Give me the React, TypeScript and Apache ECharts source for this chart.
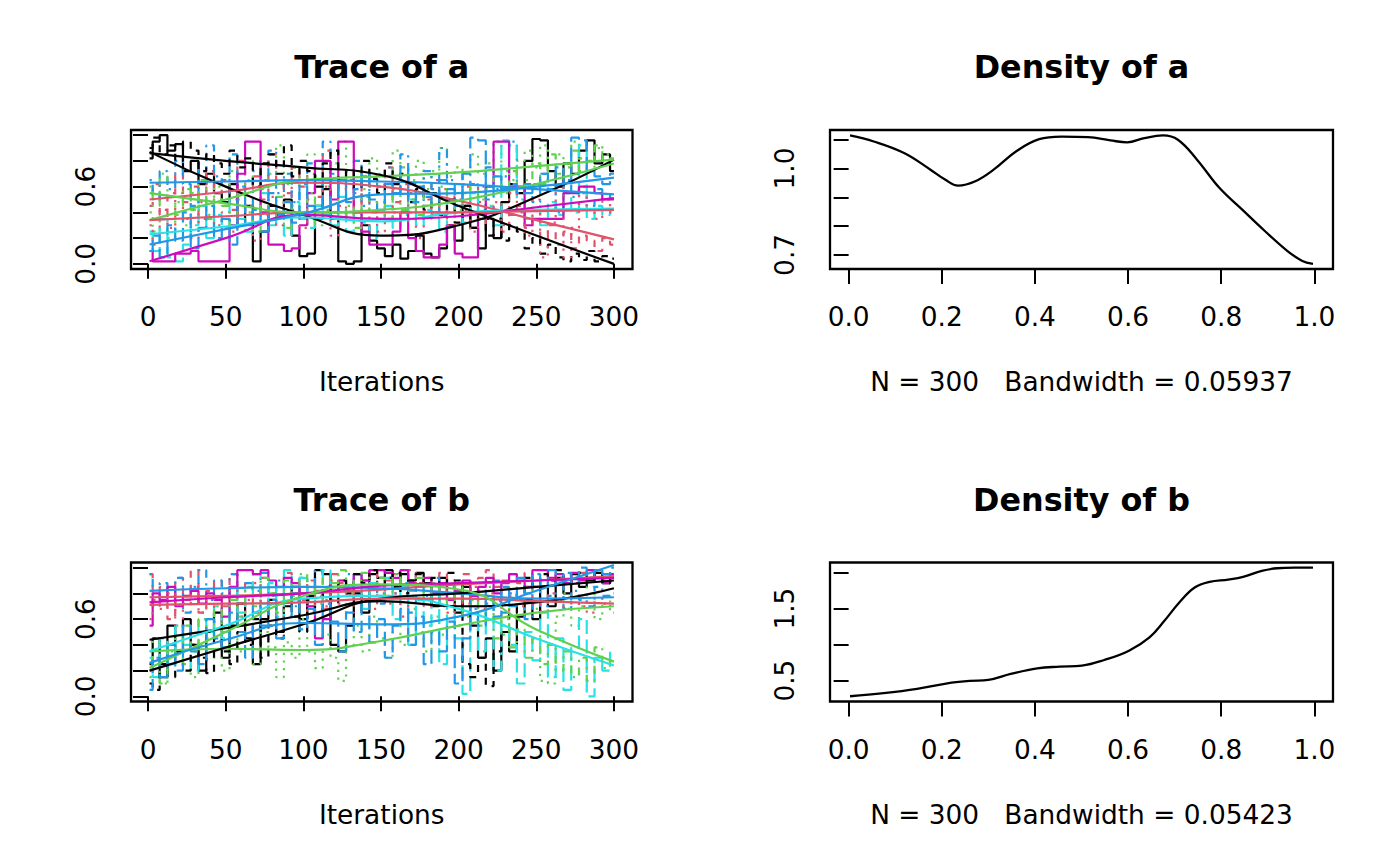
import React, { useEffect, useRef } from 'react';
import * as echarts from 'echarts';

// ---------- data ----------
const ITER = [1, 5, 10, 15, 20, 25, 30, 35, 40, 45, 50, 55, 60, 65, 70, 75, 80, 85, 90, 95, 100, 105, 110, 115, 120, 125, 130, 135, 140, 145, 150, 155, 160, 165, 170, 175, 180, 185, 190, 195, 200, 205, 210, 215, 220, 225, 230, 235, 240, 245, 250, 255, 260, 265, 270, 275, 280, 285, 290, 295, 300];

// parameter a, chains 1..10
const A1 = [0.82, 0.95, 1.00, 0.88, 0.93, 0.72, 0.80, 0.62, 0.70, 0.55,
  0.48, 0.62, 0.30, 0.45, 0.02, 0.25, 0.45, 0.38, 0.50, 0.22,
  0.06, 0.08, 0.45, 0.58, 0.35, 0.02, 0.00, 0.02, 0.30, 0.18,
  0.12, 0.06, 0.15, 0.04, 0.10, 0.22, 0.08, 0.05, 0.12, 0.30,
  0.18, 0.45, 0.28, 0.12, 0.35, 0.20, 0.48, 0.62, 0.55, 0.80,
  0.97, 0.96, 0.72, 0.60, 0.78, 0.70, 0.88, 0.96, 0.78, 0.85,
  0.72];
const A2 = [0.45, 0.62, 0.38, 0.55, 0.70, 0.48, 0.60, 0.35, 0.72, 0.55,
  0.65, 0.42, 0.80, 0.58, 0.68, 0.50, 0.85, 0.62, 0.55, 0.75,
  0.60, 0.70, 0.52, 0.88, 0.65, 0.58, 0.72, 0.45, 0.68, 0.60,
  0.55, 0.75, 0.48, 0.62, 0.40, 0.58, 0.50, 0.65, 0.38, 0.52,
  0.45, 0.60, 0.35, 0.48, 0.30, 0.42, 0.25, 0.38, 0.45, 0.28,
  0.35, 0.20, 0.30, 0.15, 0.25, 0.12, 0.22, 0.18, 0.10, 0.20,
  0.15];
const A3 = [0.40, 0.25, 0.35, 0.20, 0.48, 0.30, 0.55, 0.42, 0.38, 0.60,
  0.50, 0.72, 0.45, 0.65, 0.80, 0.58, 0.70, 0.92, 0.62, 0.75,
  0.55, 0.85, 0.68, 0.60, 0.78, 0.95, 0.65, 0.72, 0.58, 0.82,
  0.70, 0.62, 0.88, 0.75, 0.65, 0.80, 0.58, 0.72, 0.90, 0.68,
  0.75, 0.62, 0.85, 0.70, 0.78, 0.95, 0.72, 0.65, 0.80, 0.88,
  0.75, 0.92, 0.70, 0.85, 0.78, 0.95, 0.82, 0.72, 0.90, 0.85,
  0.80];
const A4 = [0.65, 0.50, 0.72, 0.58, 0.80, 0.62, 0.45, 0.75, 0.92, 0.68,
  0.55, 0.85, 0.60, 0.40, 0.72, 0.65, 0.88, 0.55, 0.70, 0.48,
  0.62, 0.78, 0.58, 0.95, 0.70, 0.52, 0.65, 0.80, 0.45, 0.68,
  0.60, 0.75, 0.55, 0.85, 0.62, 0.48, 0.72, 0.58, 0.90, 0.65,
  0.50, 0.70, 0.62, 0.42, 0.75, 0.58, 0.68, 0.95, 0.55, 0.62,
  0.48, 0.70, 0.58, 0.40, 0.65, 0.52, 0.60, 0.45, 0.58, 0.50,
  0.55];
const A5 = [0.25, 0.10, 0.35, 0.05, 0.02, 0.15, 0.30, 0.45, 0.20, 0.38,
  0.28, 0.50, 0.35, 0.25, 0.42, 0.55, 0.30, 0.40, 0.22, 0.48,
  0.35, 0.28, 0.45, 0.38, 0.30, 0.52, 0.25, 0.40, 0.32, 0.20,
  0.35, 0.45, 0.28, 0.38, 0.50, 0.30, 0.42, 0.35, 0.25, 0.48,
  0.40, 0.32, 0.55, 0.38, 0.45, 0.30, 0.96, 0.92, 0.50, 0.35,
  0.42, 0.30, 0.48, 0.38, 0.55, 0.40, 0.92, 0.35, 0.45, 0.38,
  0.42];
const A6 = [0.10, 0.02, 0.02, 0.02, 0.08, 0.08, 0.10, 0.02, 0.02, 0.02,
  0.02, 0.30, 0.70, 0.95, 0.95, 0.40, 0.15, 0.15, 0.10, 0.12,
  0.30, 0.55, 0.80, 0.80, 0.50, 0.95, 0.95, 0.40, 0.25, 0.15,
  0.15, 0.15, 0.25, 0.40, 0.20, 0.10, 0.05, 0.05, 0.15, 0.30,
  0.08, 0.05, 0.05, 0.35, 0.60, 0.95, 0.95, 0.60, 0.60, 0.30,
  0.35, 0.35, 0.35, 0.35, 0.55, 0.55, 0.60, 0.60, 0.55, 0.50,
  0.50];
const A7 = [0.90, 0.98, 0.85, 0.92, 0.80, 0.95, 0.88, 0.72, 0.85, 0.78,
  0.70, 0.88, 0.75, 0.82, 0.60, 0.78, 0.85, 0.70, 0.92, 0.68,
  0.80, 0.72, 0.60, 0.78, 0.88, 0.65, 0.72, 0.58, 0.80, 0.66,
  0.55, 0.78, 0.62, 0.70, 0.48, 0.58, 0.42, 0.55, 0.38, 0.50,
  0.32, 0.45, 0.28, 0.40, 0.22, 0.35, 0.18, 0.30, 0.25, 0.12,
  0.20, 0.08, 0.15, 0.05, 0.02, 0.08, 0.03, 0.10, 0.02, 0.06,
  0.04];
const A8 = [0.30, 0.15, 0.42, 0.28, 0.55, 0.35, 0.20, 0.48, 0.62, 0.30,
  0.40, 0.25, 0.58, 0.45, 0.18, 0.38, 0.52, 0.30, 0.65, 0.42,
  0.28, 0.50, 0.35, 0.60, 0.22, 0.45, 0.38, 0.55, 0.30, 0.48,
  0.25, 0.62, 0.40, 0.33, 0.55, 0.20, 0.45, 0.38, 0.58, 0.30,
  0.50, 0.42, 0.25, 0.60, 0.35, 0.48, 0.30, 0.55, 0.40, 0.22,
  0.50, 0.05, 0.32, 0.60, 0.05, 0.28, 0.55, 0.42, 0.35, 0.50,
  0.40];
const A9 = [0.60, 0.45, 0.70, 0.52, 0.38, 0.58, 0.42, 0.65, 0.35, 0.50,
  0.45, 0.30, 0.55, 0.40, 0.25, 0.48, 0.35, 0.52, 0.28, 0.45,
  0.38, 0.55, 0.30, 0.42, 0.50, 0.35, 0.45, 0.28, 0.52, 0.40,
  0.48, 0.35, 0.58, 0.42, 0.50, 0.38, 0.55, 0.45, 0.60, 0.48,
  0.42, 0.55, 0.62, 0.50, 0.58, 0.68, 0.55, 0.72, 0.60, 0.65,
  0.78, 0.62, 0.85, 0.70, 0.75, 0.88, 0.72, 0.80, 0.92, 0.78,
  0.82];
const A10 = [0.10, 0.22, 0.05, 0.30, 0.18, 0.40, 0.12, 0.28, 0.45, 0.20,
  0.35, 0.15, 0.50, 0.30, 0.42, 0.25, 0.55, 0.38, 0.48, 0.32,
  0.60, 0.45, 0.35, 0.52, 0.40, 0.65, 0.48, 0.58, 0.70, 0.50,
  0.42, 0.62, 0.55, 0.75, 0.48, 0.60, 0.52, 0.40, 0.65, 0.58,
  0.45, 0.70, 0.98, 0.96, 0.50, 0.68, 0.58, 0.62, 0.55, 0.55,
  0.62, 0.70, 0.58, 0.75, 0.65, 0.98, 0.96, 0.72, 0.68, 0.62,
  0.70];

// parameter b, chains 1..10
const B1 = [0.25, 0.45, 0.15, 0.55, 0.35, 0.60, 0.40, 0.20, 0.50, 0.65,
  0.30, 0.55, 0.72, 0.45, 0.25, 0.60, 0.75, 0.50, 0.70, 0.85,
  0.60, 0.78, 0.98, 0.95, 0.40, 0.35, 0.55, 0.80, 0.65, 0.95,
  0.92, 0.98, 0.85, 0.95, 0.90, 0.96, 0.88, 0.70, 0.92, 0.80,
  0.65, 0.85, 0.55, 0.30, 0.45, 0.20, 0.50, 0.35, 0.62, 0.75,
  0.60, 0.85, 0.70, 0.92, 0.80, 0.95, 0.85, 0.90, 0.96, 0.88,
  0.92];
const B2 = [0.95, 0.70, 0.85, 0.60, 0.92, 0.75, 0.98, 0.65, 0.82, 0.90,
  0.70, 0.95, 0.78, 0.88, 0.65, 0.92, 0.80, 0.72, 0.96, 0.85,
  0.75, 0.90, 0.82, 0.68, 0.95, 0.88, 0.78, 0.92, 0.85, 0.98,
  0.80, 0.90, 0.95, 0.85, 0.98, 0.88, 0.92, 0.80, 0.96, 0.90,
  0.85, 0.95, 0.88, 0.92, 0.98, 0.85, 0.90, 0.95, 0.88, 0.96,
  0.92, 0.85, 0.98, 0.90, 0.94, 0.88, 0.96, 0.92, 0.98, 0.90,
  0.95];
const B3 = [0.20, 0.45, 0.10, 0.35, 0.55, 0.25, 0.15, 0.40, 0.60, 0.30,
  0.20, 0.45, 0.35, 0.55, 0.25, 0.50, 0.38, 0.15, 0.42, 0.30,
  0.60, 0.35, 0.22, 0.48, 0.30, 0.12, 0.40, 0.55, 0.35, 0.62,
  0.45, 0.30, 0.55, 0.40, 0.68, 0.50, 0.35, 0.62, 0.48, 0.75,
  0.55, 0.40, 0.70, 0.58, 0.85, 0.62, 0.48, 0.75, 0.60, 0.90,
  0.68, 0.12, 0.10, 0.62, 0.80, 0.55, 0.70, 0.85, 0.60, 0.78,
  0.65];
const B4 = [0.95, 0.70, 0.88, 0.78, 0.92, 0.65, 0.85, 0.98, 0.75, 0.90,
  0.80, 0.95, 0.72, 0.88, 0.82, 0.96, 0.78, 0.90, 0.85, 0.70,
  0.92, 0.80, 0.98, 0.75, 0.88, 0.82, 0.95, 0.78, 0.90, 0.85,
  0.72, 0.92, 0.80, 0.88, 0.65, 0.85, 0.78, 0.92, 0.70, 0.85,
  0.75, 0.88, 0.68, 0.82, 0.72, 0.90, 0.65, 0.80, 0.75, 0.60,
  0.85, 0.70, 0.78, 0.92, 0.68, 0.82, 0.75, 0.70, 0.85, 0.78,
  0.80];
const B5 = [0.30, 0.15, 0.45, 0.25, 0.55, 0.40, 0.20, 0.60, 0.50, 0.70,
  0.45, 0.85, 0.65, 0.78, 0.95, 0.72, 0.88, 0.62, 0.98, 0.80,
  0.92, 0.70, 0.85, 0.98, 0.75, 0.90, 0.82, 0.95, 0.68, 0.88,
  0.78, 0.92, 0.60, 0.85, 0.40, 0.75, 0.55, 0.80, 0.25, 0.70,
  0.45, 0.02, 0.60, 0.35, 0.75, 0.20, 0.55, 0.40, 0.10, 0.50,
  0.28, 0.65, 0.15, 0.45, 0.05, 0.38, 0.60, 0.00, 0.30, 0.20,
  0.35];
const B6 = [0.55, 0.80, 0.75, 0.85, 0.70, 0.78, 0.82, 0.72, 0.80, 0.75,
  0.62, 0.85, 0.98, 0.98, 0.95, 0.98, 0.90, 0.85, 0.92, 0.88,
  0.80, 0.70, 0.45, 0.60, 0.85, 0.90, 0.82, 0.95, 0.90, 0.98,
  0.98, 0.96, 0.92, 0.98, 0.88, 0.85, 0.92, 0.80, 0.88, 0.75,
  0.82, 0.90, 0.78, 0.85, 0.92, 0.80, 0.88, 0.95, 0.90, 0.85,
  0.98, 0.98, 0.92, 0.95, 0.88, 0.96, 0.90, 0.98, 0.92, 0.88,
  0.95];
const B7 = [0.10, 0.05, 0.25, 0.15, 0.35, 0.20, 0.40, 0.30, 0.18, 0.45,
  0.35, 0.25, 0.50, 0.40, 0.60, 0.30, 0.55, 0.45, 0.70, 0.62,
  0.50, 0.75, 0.68, 0.85, 0.72, 0.90, 0.80, 0.95, 0.88, 0.98,
  0.85, 0.92, 0.96, 0.80, 0.90, 0.95, 0.88, 0.92, 0.85, 0.96,
  0.90, 0.25, 0.15, 0.30, 0.08, 0.35, 0.50, 0.65, 0.80, 0.92,
  0.85, 0.95, 0.90, 0.98, 0.88, 0.92, 0.96, 0.90, 0.94, 0.88,
  0.92];
const B8 = [0.60, 0.75, 0.68, 0.80, 0.55, 0.72, 0.85, 0.65, 0.78, 0.58,
  0.70, 0.82, 0.62, 0.75, 0.88, 0.68, 0.72, 0.60, 0.80, 0.74,
  0.85, 0.66, 0.78, 0.70, 0.90, 0.72, 0.65, 0.82, 0.76, 0.68,
  0.85, 0.72, 0.80, 0.62, 0.78, 0.88, 0.70, 0.75, 0.82, 0.65,
  0.78, 0.72, 0.85, 0.68, 0.80, 0.74, 0.62, 0.78, 0.70, 0.85,
  0.72, 0.66, 0.80, 0.74, 0.68, 0.78, 0.70, 0.65, 0.76, 0.72,
  0.70];
const B9 = [0.15, 0.30, 0.10, 0.40, 0.25, 0.55, 0.35, 0.60, 0.45, 0.70,
  0.50, 0.75, 0.62, 0.85, 0.70, 0.92, 0.80, 0.65, 0.90, 0.78,
  0.95, 0.85, 0.72, 0.92, 0.88, 0.98, 0.80, 0.90, 0.96, 0.85,
  0.92, 0.78, 0.95, 0.88, 0.82, 0.92, 0.75, 0.88, 0.80, 0.70,
  0.85, 0.62, 0.75, 0.55, 0.68, 0.45, 0.60, 0.38, 0.52, 0.30,
  0.45, 0.25, 0.40, 0.20, 0.35, 0.15, 0.30, 0.12, 0.38, 0.22,
  0.30];
const B10 = [0.05, 0.30, 0.15, 0.40, 0.20, 0.55, 0.35, 0.25, 0.60, 0.45,
  0.38, 0.65, 0.50, 0.30, 0.70, 0.55, 0.75, 0.45, 0.62, 0.80,
  0.52, 0.68, 0.40, 0.72, 0.58, 0.35, 0.65, 0.50, 0.75, 0.42,
  0.60, 0.30, 0.55, 0.68, 0.40, 0.62, 0.25, 0.50, 0.35, 0.58,
  0.10, 0.45, 0.70, 0.55, 0.78, 0.62, 0.85, 0.70, 0.92, 0.80,
  0.95, 0.85, 0.98, 0.90, 0.96, 0.88, 1.00, 0.92, 0.98, 0.95,
  1.00];

// lowess smooth lines (per chain) at these iterations
const SMOOTH_X = [1, 50, 100, 150, 200, 250, 300];
const SMOOTH_A = [
  [0.87, 0.60, 0.38, 0.22, 0.30, 0.52, 0.81],
  [0.50, 0.56, 0.63, 0.60, 0.49, 0.34, 0.19],
  [0.34, 0.50, 0.65, 0.68, 0.71, 0.76, 0.81],
  [0.63, 0.64, 0.65, 0.64, 0.62, 0.58, 0.54],
  [0.23, 0.29, 0.36, 0.33, 0.40, 0.42, 0.43],
  [0.02, 0.20, 0.38, 0.35, 0.37, 0.44, 0.51],
  [0.86, 0.80, 0.75, 0.69, 0.45, 0.22, 0.00],
  [0.34, 0.37, 0.40, 0.40, 0.40, 0.41, 0.42],
  [0.55, 0.47, 0.40, 0.42, 0.49, 0.62, 0.78],
  [0.15, 0.27, 0.39, 0.54, 0.55, 0.60, 0.67],
];
const SMOOTH_B = [
  [0.44, 0.53, 0.63, 0.74, 0.70, 0.73, 0.84],
  [0.77, 0.78, 0.80, 0.83, 0.87, 0.90, 0.935],
  [0.35, 0.37, 0.36, 0.43, 0.55, 0.65, 0.70],
  [0.82, 0.84, 0.85, 0.84, 0.80, 0.76, 0.77],
  [0.35, 0.55, 0.76, 0.78, 0.68, 0.45, 0.24],
  [0.73, 0.77, 0.80, 0.86, 0.88, 0.90, 0.92],
  [0.20, 0.38, 0.56, 0.76, 0.80, 0.85, 0.90],
  [0.71, 0.72, 0.73, 0.76, 0.76, 0.74, 0.72],
  [0.22, 0.50, 0.78, 0.87, 0.83, 0.52, 0.27],
  [0.26, 0.44, 0.57, 0.56, 0.62, 0.82, 1.02],
];

// kernel density curves
const DENS_A_X = [0.003, 0.054, 0.119, 0.175, 0.207, 0.235, 0.272, 0.312, 0.36, 0.409, 0.457, 0.514, 0.562, 0.598, 0.635, 0.675, 0.707, 0.748, 0.796, 0.844, 0.893, 0.941, 0.973, 0.997];
const DENS_A_Y = [1.115, 1.094, 1.054, 0.997, 0.962, 0.941, 0.956, 0.997, 1.06, 1.102, 1.111, 1.109, 1.098, 1.091, 1.106, 1.115, 1.1, 1.031, 0.933, 0.859, 0.784, 0.715, 0.68, 0.669];
const DENS_B_X = [0.003, 0.075, 0.147, 0.212, 0.26, 0.3, 0.348, 0.405, 0.453, 0.501, 0.549, 0.602, 0.646, 0.678, 0.71, 0.743, 0.775, 0.815, 0.847, 0.887, 0.92, 0.972, 0.997];
const DENS_B_Y = [0.283, 0.325, 0.385, 0.463, 0.496, 0.51, 0.593, 0.671, 0.694, 0.708, 0.786, 0.915, 1.1, 1.331, 1.585, 1.792, 1.871, 1.903, 1.94, 2.023, 2.06, 2.069, 2.07];

// ticks / labels
const TRACE_X_TICKS = [0, 50, 100, 150, 200, 250, 300];
const TRACE_Y_TICKS = [0, 0.2, 0.4, 0.6, 0.8, 1.0];
const TRACE_Y_LABELS = [0, 0.6];
const DENS_X_TICKS = [0, 0.2, 0.4, 0.6, 0.8, 1.0];
const DENS_A_Y_TICKS = [0.7, 0.8, 0.9, 1.0, 1.1];
const DENS_A_Y_LABELS = [0.7, 1.0];
const DENS_B_Y_TICKS = [0.5, 1.0, 1.5, 2.0];
const DENS_B_Y_LABELS = [0.5, 1.5];

const TITLES = ['Trace of a', 'Density of a', 'Trace of b', 'Density of b'];
const XLABELS = ['Iterations', 'N = 300   Bandwidth = 0.05937', 'Iterations', 'N = 300   Bandwidth = 0.05423'];

const CHAIN_COLORS = ['#000000', '#DF536B', '#61D04F', '#2297E6', '#28E2E5', '#CD0BBC', '#000000', '#DF536B', '#61D04F', '#2297E6'];

// ---------- styling ----------
const FONT = 'DejaVu Sans';
const FS = 26.4;
const TFS = 31.8;
const LW = 2.2;
const LTY: any = {
  solid: 'solid',
  dashed: [7, 7],
  dotted: [2.2, 5.5],
  dotdash: [2.2, 5.5, 8, 5.5],
  longdash: [14, 5.5],
};
const CHAIN_LTY = ['solid', 'dashed', 'dotted', 'dotdash', 'longdash', 'solid', 'dashed', 'dotted', 'dotdash', 'longdash'];

const GRIDS = [
  { left: 131, top: 130, width: 501.5, height: 139 },
  { left: 830, top: 130, width: 503, height: 139 },
  { left: 131, top: 562.5, width: 501.5, height: 139 },
  { left: 830, top: 562.5, width: 503, height: 139 },
];

export default function App() {
  const ref = useRef<HTMLDivElement>(null);
  useEffect(() => {
    if (!ref.current) return;
    const chart = echarts.init(ref.current, null, { renderer: 'svg' });

    const xAxis = (gi: number, min: number, max: number, ticks: number[], labels: number[], fmt: (v: number) => string) => ({
      type: 'value', gridIndex: gi, min, max, position: 'bottom',
      axisLine: { show: false },
      splitLine: { show: false },
      axisTick: { show: true, length: 15, customValues: ticks, lineStyle: { color: '#000', width: 2 } },
      axisLabel: { customValues: labels, margin: 34.5, formatter: fmt, color: '#000', fontSize: FS, fontFamily: FONT },
    });
    const yAxis = (gi: number, min: number, max: number, ticks: number[], labels: number[]) => ({
      type: 'value', gridIndex: gi, min, max, position: 'left',
      axisLine: { show: false },
      splitLine: { show: false },
      axisTick: { show: true, length: 15, customValues: ticks, lineStyle: { color: '#000', width: 2 } },
      axisLabel: { customValues: labels, margin: 32.5, rotate: 90, formatter: (v: number) => v.toFixed(1), color: '#000', fontSize: FS, fontFamily: FONT },
    });

    const series: any[] = [];
    const addTrace = (chains: number[][], smooth: number[][], xi: number) => {
      chains.forEach((vals, k) => {
        series.push({
          type: 'line', xAxisIndex: xi, yAxisIndex: xi,
          data: ITER.map((it, i) => [it, vals[i]]),
          symbol: 'none', step: 'middle',
          lineStyle: { color: CHAIN_COLORS[k], width: LW, type: LTY[CHAIN_LTY[k]] },
          silent: true,
        });
      });
      smooth.forEach((vals, k) => {
        series.push({
          type: 'line', xAxisIndex: xi, yAxisIndex: xi,
          data: SMOOTH_X.map((it, i) => [it, vals[i]]),
          symbol: 'none', smooth: 0.5,
          lineStyle: { color: CHAIN_COLORS[k], width: LW, type: 'solid' },
          silent: true,
        });
      });
    };
    addTrace([A1, A2, A3, A4, A5, A6, A7, A8, A9, A10], SMOOTH_A, 0);
    addTrace([B1, B2, B3, B4, B5, B6, B7, B8, B9, B10], SMOOTH_B, 2);
    series.push({
      type: 'line', xAxisIndex: 1, yAxisIndex: 1,
      data: DENS_A_X.map((x, i) => [x, DENS_A_Y[i]]),
      symbol: 'none', smooth: 0.4,
      lineStyle: { color: '#000', width: 2.3 }, silent: true,
    });
    series.push({
      type: 'line', xAxisIndex: 3, yAxisIndex: 3,
      data: DENS_B_X.map((x, i) => [x, DENS_B_Y[i]]),
      symbol: 'none', smooth: 0.4,
      lineStyle: { color: '#000', width: 2.3 }, silent: true,
    });

    const graphic: any[] = [];
    GRIDS.forEach((g, i) => {
      const cx = g.left + g.width / 2;
      graphic.push({
        type: 'text', x: cx, y: g.top - 63.5, silent: true,
        style: { text: TITLES[i], fill: '#000', font: `bold ${TFS}px "${FONT}"`, textAlign: 'center', textVerticalAlign: 'middle' },
      });
      graphic.push({
        type: 'text', x: cx, y: g.top + 251.5, silent: true,
        style: { text: XLABELS[i], fill: '#000', font: `${FS}px "${FONT}"`, textAlign: 'center', textVerticalAlign: 'middle' },
      });
    });

    chart.setOption({
      animation: false,
      backgroundColor: '#ffffff',
      grid: GRIDS.map((g) => ({ ...g, show: true, borderColor: '#000', borderWidth: 2.3, backgroundColor: 'transparent', containLabel: false })),
      xAxis: [
        xAxis(0, -10.96, 311.96, TRACE_X_TICKS, TRACE_X_TICKS, (v) => String(v)),
        xAxis(1, -0.04, 1.04, DENS_X_TICKS, DENS_X_TICKS, (v) => v.toFixed(1)),
        xAxis(2, -10.96, 311.96, TRACE_X_TICKS, TRACE_X_TICKS, (v) => String(v)),
        xAxis(3, -0.04, 1.04, DENS_X_TICKS, DENS_X_TICKS, (v) => v.toFixed(1)),
      ],
      yAxis: [
        yAxis(0, -0.04, 1.04, TRACE_Y_TICKS, TRACE_Y_LABELS),
        yAxis(1, 0.651, 1.134, DENS_A_Y_TICKS, DENS_A_Y_LABELS),
        yAxis(2, -0.04, 1.04, TRACE_Y_TICKS, TRACE_Y_LABELS),
        yAxis(3, 0.21, 2.14, DENS_B_Y_TICKS, DENS_B_Y_LABELS),
      ],
      series,
      graphic,
    });
    return () => chart.dispose();
  }, []);
  return <div ref={ref} style={{ position: 'fixed', left: 0, top: 0, width: 1400, height: 865, background: '#fff' }} />;
}
